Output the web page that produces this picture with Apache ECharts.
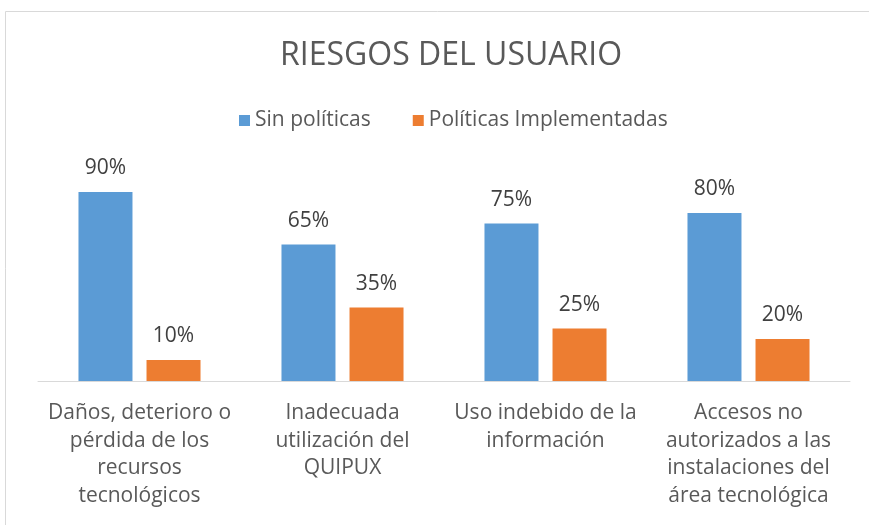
<!DOCTYPE html>
<html>
<head>
<meta charset="utf-8">
<script src="https://cdn.jsdelivr.net/npm/echarts@6/dist/echarts.min.js"></script>
<style>
    html, body { margin: 0; padding: 0; background: #fff; }
    #chart { width: 869px; height: 525px; }
</style>
</head>
<body>
<div id="chart"></div>
<script>
    // categorias (con saltos de linea como en el original)
    const categorias = [
        'Daños, deterioro o\npérdida de los\nrecursos\ntecnológicos',
        'Inadecuada\nutilización del\nQUIPUX',
        'Uso indebido de la\ninformación',
        'Accesos no\nautorizados a las\ninstalaciones del\nárea tecnológica'
    ];
    const sinPoliticas = [90, 65, 75, 80];
    const implementadas = [10, 35, 25, 20];
    const nombres = ['Sin políticas', 'Políticas Implementadas'];

    const fuente = "'Open Sans', sans-serif";
    const chart = echarts.init(document.getElementById('chart'));
    chart.setOption({
        color: ['#5b9bd5', '#ed7d31'],
        textStyle: { fontFamily: fuente },
        graphic: [{
            type: 'rect',
            shape: { x: 5.5, y: 11.5, width: 900, height: 600 },
            style: { fill: 'none', stroke: '#d9d9d9', lineWidth: 1 },
            silent: true
        }],
        title: {
            text: 'RIESGOS DEL USUARIO',
            left: 275,
            top: 35,
            textStyle: { fontFamily: fuente, fontSize: 32, fontWeight: 'normal', color: '#595959' }
        },
        legend: {
            data: nombres,
            top: 105,
            left: 234,
            itemWidth: 11,
            itemHeight: 11,
            itemGap: 42,
            icon: 'rect',
            textStyle: { fontFamily: fuente, fontSize: 21, color: '#595959' }
        },
        grid: { left: 38, right: 19, top: 171, bottom: 144 },
        xAxis: {
            type: 'category',
            data: categorias,
            axisLine: { lineStyle: { color: '#d9d9d9', width: 1 } },
            axisTick: { show: false },
            axisLabel: {
                interval: 0,
                margin: 18,
                fontFamily: fuente,
                fontSize: 21,
                lineHeight: 27.8,
                color: '#595959'
            }
        },
        yAxis: {
            type: 'value',
            min: 0,
            max: 100,
            show: false,
            splitLine: { show: false }
        },
        series: [
            {
                name: nombres[0],
                type: 'bar',
                data: sinPoliticas,
                barWidth: 54,
                barGap: '26%',
                label: {
                    show: true, position: 'top', distance: 13, formatter: '{c}%',
                    fontFamily: fuente, fontSize: 21, color: '#404040'
                }
            },
            {
                name: nombres[1],
                type: 'bar',
                data: implementadas,
                barWidth: 54,
                label: {
                    show: true, position: 'top', distance: 13, formatter: '{c}%',
                    fontFamily: fuente, fontSize: 21, color: '#404040'
                }
            }
        ]
    });
</script>
</body>
</html>
